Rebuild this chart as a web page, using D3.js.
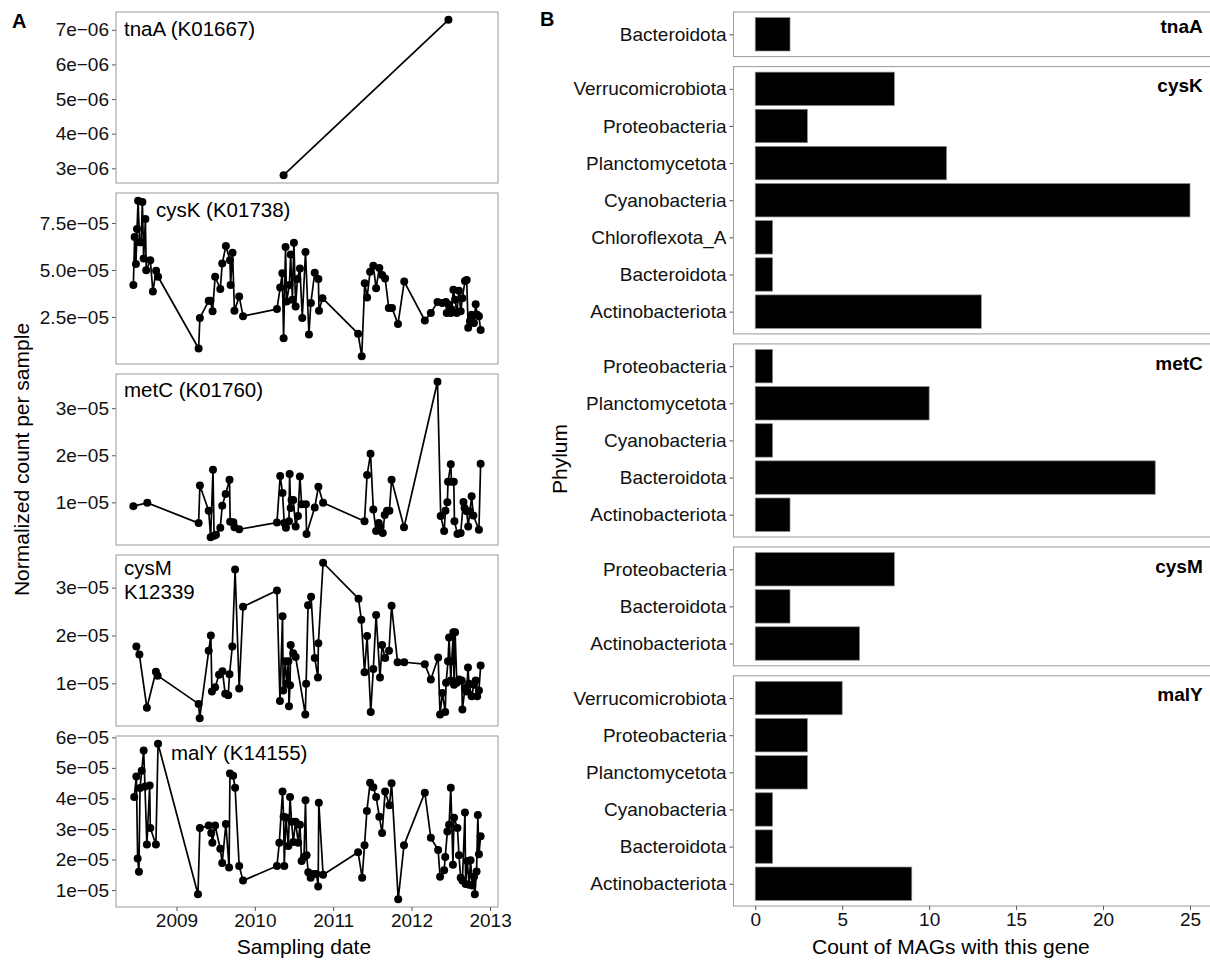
<!DOCTYPE html>
<html>
<head>
<meta charset="utf-8">
<script src="https://cdn.jsdelivr.net/npm/d3@7"></script>
<style>
  body { margin: 0; background: #fff; }
  svg text { font-family: "Liberation Sans", Arial, Helvetica, sans-serif; }
</style>
</head>
<body>
<svg id="fig" width="1210" height="960"></svg>
<script>
// ---------------- Panel A: normalized gene counts over time ----------------
const tnaADates = ["2010-05-15", "2012-06-21"];
const tnaAValues = [2.80e-6, 7.29e-6];

const cysKDates = ["2008-06-14","2008-06-20","2008-06-26","2008-07-01","2008-07-06","2008-07-13","2008-07-20","2008-07-26","2008-08-01","2008-08-09","2008-08-13","2008-09-01","2008-09-13","2008-09-28","2008-10-07",
  "2009-04-14","2009-04-20","2009-05-31","2009-06-08","2009-06-18","2009-06-30","2009-07-24","2009-08-02","2009-08-19","2009-09-07","2009-09-10","2009-09-19","2009-09-28","2009-10-20","2009-11-07",
  "2010-04-14","2010-04-29","2010-05-09","2010-05-15","2010-05-24","2010-05-29","2010-06-11","2010-06-17","2010-06-25","2010-07-02","2010-07-10","2010-07-18","2010-07-30","2010-08-10","2010-08-25","2010-09-10","2010-09-19","2010-10-07","2010-10-24","2010-10-27","2010-11-12",
  "2011-04-27","2011-05-14","2011-05-28","2011-06-08","2011-06-22","2011-07-07","2011-07-20","2011-08-04","2011-08-17","2011-08-31","2011-09-17","2011-10-02","2011-10-30","2011-11-28",
  "2012-03-03","2012-03-31","2012-05-01","2012-05-24","2012-06-09","2012-06-13","2012-06-24","2012-07-02","2012-07-06","2012-07-14","2012-07-22","2012-07-30","2012-08-09","2012-08-17","2012-08-25","2012-09-06","2012-09-14","2012-09-21","2012-09-29","2012-10-07","2012-10-18","2012-10-26","2012-11-02","2012-11-10","2012-11-18"];
const cysKValues = [4.20,6.75,5.31,7.18,8.68,6.48,6.48,8.62,5.61,7.71,4.99,5.52,3.85,4.96,4.64,
  0.82,2.45,3.36,3.36,2.80,4.64,3.99,5.34,6.27,5.52,4.20,5.92,2.83,3.59,2.54,
  2.92,4.06,4.82,1.36,6.22,3.32,4.20,5.82,3.41,6.45,3.06,4.52,5.08,2.45,5.96,1.57,3.24,4.85,4.52,2.83,3.50,
  1.61,0.41,4.29,3.54,4.90,5.22,4.03,5.11,4.73,4.55,2.97,2.97,2.13,4.38,
  2.31,2.71,3.29,3.24,3.29,2.71,3.15,2.71,2.89,3.94,3.41,2.71,3.89,2.80,3.50,4.41,4.46,1.92,2.27,2.62,2.18,3.18,2.62,2.54,1.80].map(v => v * 1e-5);

const metCDates = ["2008-06-14","2008-08-18",
  "2009-04-14","2009-04-20","2009-05-31","2009-06-09","2009-06-20","2009-06-25","2009-07-04","2009-07-24","2009-08-02","2009-08-18","2009-09-05","2009-09-08","2009-09-23","2009-09-28","2009-10-20",
  "2010-04-14","2010-04-29","2010-05-10","2010-05-18","2010-05-26","2010-06-09","2010-06-12","2010-06-17","2010-06-21","2010-06-29","2010-07-10","2010-07-21","2010-07-30","2010-08-07","2010-08-27","2010-08-30","2010-10-07","2010-10-24","2010-11-15",
  "2011-05-27","2011-06-08","2011-06-24","2011-07-07","2011-07-20","2011-08-01","2011-08-09","2011-08-20","2011-08-29","2011-09-09","2011-09-20","2011-09-30","2011-11-27",
  "2012-05-01","2012-05-16","2012-06-01","2012-06-07","2012-06-16","2012-06-19","2012-07-02","2012-07-05","2012-07-16","2012-07-19","2012-08-02","2012-08-17","2012-08-30","2012-09-04","2012-09-14","2012-09-21","2012-09-29","2012-10-07","2012-10-15","2012-11-10","2012-11-18"];
const metCValues = [0.92,0.99,
  0.56,1.36,0.82,0.26,1.69,0.29,0.31,0.46,0.93,1.18,1.48,0.59,0.58,0.47,0.43,
  0.57,1.56,1.20,0.56,0.46,0.60,1.60,0.88,1.05,1.05,0.49,0.71,1.55,0.96,0.96,0.33,0.89,1.33,0.99,
  0.60,1.58,2.03,0.85,0.39,0.56,0.47,0.35,0.73,0.82,0.82,1.48,0.47,
  3.56,0.71,0.39,0.82,1.00,1.44,1.81,1.44,1.44,0.60,0.33,0.35,1.01,0.88,0.81,0.49,0.81,1.13,0.72,0.42,1.82].map(v => v * 1e-5);

const cysMDates = ["2008-06-28","2008-07-12","2008-08-16","2008-09-27","2008-10-05",
  "2009-04-14","2009-04-19","2009-05-31","2009-06-10","2009-06-15","2009-06-30","2009-07-18","2009-08-03","2009-08-16","2009-08-30","2009-09-05","2009-09-18","2009-10-01","2009-10-20","2009-11-07",
  "2010-04-14","2010-04-28","2010-05-10","2010-05-13","2010-05-23","2010-05-29","2010-06-06","2010-06-09","2010-06-14","2010-06-17","2010-06-29","2010-07-10","2010-08-24","2010-08-28","2010-09-06","2010-09-20","2010-10-07","2010-10-22","2010-10-24","2010-11-15",
  "2011-04-29","2011-05-12","2011-05-27","2011-06-08","2011-06-25","2011-07-07","2011-07-20","2011-08-07","2011-08-17","2011-08-31","2011-09-18","2011-09-30","2011-10-28","2011-11-28",
  "2012-03-03","2012-03-31","2012-05-04","2012-05-13","2012-05-24","2012-06-06","2012-06-10","2012-06-19","2012-06-24","2012-07-02","2012-07-06","2012-07-14","2012-07-17","2012-07-22","2012-07-30","2012-08-09","2012-08-22","2012-08-25","2012-09-06","2012-09-14","2012-09-20","2012-09-25","2012-10-07","2012-10-18","2012-10-26","2012-11-02","2012-11-10","2012-11-18"];
const cysMValues = [1.77,1.60,0.49,1.24,1.16,
  0.57,0.27,1.68,2.00,0.83,0.92,1.18,1.25,0.78,0.75,1.19,1.77,3.38,0.89,2.60,
  2.94,0.63,2.40,0.85,1.46,0.99,1.46,0.52,0.96,1.80,1.63,1.55,0.35,0.99,2.63,2.81,1.53,1.12,1.84,3.52,
  2.77,2.33,1.23,1.99,0.40,1.30,2.43,1.12,1.80,1.53,1.68,2.62,1.44,1.44,
  1.40,1.08,1.54,0.35,0.80,0.40,1.01,1.46,1.96,1.06,1.46,2.07,0.97,2.07,1.01,1.08,1.06,0.45,0.90,0.83,1.33,0.99,0.73,0.97,1.06,0.73,0.85,1.37].map(v => v * 1e-5);

const malYDates = ["2008-06-18","2008-06-28","2008-07-04","2008-07-10","2008-07-15","2008-07-23","2008-08-01","2008-08-07","2008-08-16","2008-08-29","2008-09-01","2008-09-27","2008-10-07",
  "2009-04-11","2009-04-20","2009-05-31","2009-06-12","2009-06-17","2009-06-30","2009-07-24","2009-08-02","2009-08-19","2009-09-03","2009-09-07","2009-09-22","2009-10-01","2009-10-20","2009-11-07",
  "2010-04-14","2010-04-25","2010-05-10","2010-05-15","2010-05-18","2010-05-26","2010-06-06","2010-06-14","2010-06-21","2010-06-29","2010-07-10","2010-07-22","2010-07-30","2010-08-07","2010-08-18","2010-08-25","2010-08-30","2010-09-07","2010-09-18","2010-09-30","2010-10-15","2010-10-23","2010-10-26","2010-11-15",
  "2011-04-27","2011-05-16","2011-05-27","2011-06-07","2011-06-22","2011-07-07","2011-07-20","2011-08-04","2011-08-17","2011-08-31","2011-09-20","2011-09-30","2011-10-31","2011-11-27",
  "2012-03-03","2012-03-31","2012-05-04","2012-05-13","2012-06-01","2012-06-06","2012-06-16","2012-06-24","2012-07-02","2012-07-12","2012-07-17","2012-08-02","2012-08-09","2012-08-17","2012-08-25","2012-09-06","2012-09-09","2012-09-17","2012-09-25","2012-10-02","2012-10-10","2012-10-18","2012-10-22","2012-10-30","2012-11-05","2012-11-10","2012-11-18"];
const malYValues = [4.05,4.72,2.03,1.60,4.34,4.91,5.57,4.39,2.49,4.42,3.03,2.49,5.79,
  0.86,3.03,3.11,2.87,2.55,3.11,2.35,1.89,3.16,1.74,4.82,4.74,4.35,1.79,1.31,
  1.79,2.55,4.23,3.40,1.79,3.38,2.44,4.05,3.24,2.57,3.24,2.55,3.14,1.95,2.08,3.94,2.14,1.58,1.40,1.53,1.53,1.12,3.86,1.50,
  2.24,1.40,2.47,3.59,4.51,4.37,4.05,3.40,2.87,4.23,3.78,4.50,0.70,2.47,
  4.19,2.71,2.31,1.44,1.65,2.08,2.92,3.14,4.35,1.83,3.37,3.03,2.14,1.40,1.31,3.54,1.20,1.95,1.17,1.98,1.15,1.44,0.86,1.61,3.46,2.17,2.76].map(v => v * 1e-5);

const tnaATicks = [3e-6, 4e-6, 5e-6, 6e-6, 7e-6];
const tnaATickLabels = ["3e\u221206", "4e\u221206", "5e\u221206", "6e\u221206", "7e\u221206"];
const cysKTicks = [2.5e-5, 5e-5, 7.5e-5];
const cysKTickLabels = ["2.5e\u221205", "5.0e\u221205", "7.5e\u221205"];
const metCTicks = [1e-5, 2e-5, 3e-5];
const metCTickLabels = ["1e\u221205", "2e\u221205", "3e\u221205"];
const cysMTicks = [1e-5, 2e-5, 3e-5];
const cysMTickLabels = ["1e\u221205", "2e\u221205", "3e\u221205"];
const malYTicks = [1e-5, 2e-5, 3e-5, 4e-5, 5e-5, 6e-5];
const malYTickLabels = ["1e\u221205", "2e\u221205", "3e\u221205", "4e\u221205", "5e\u221205", "6e\u221205"];
const yearTicks = [2009, 2010, 2011, 2012, 2013];

// ---------------- Panel B: MAG counts per phylum ----------------
const barGenes = ["tnaA", "cysK", "metC", "cysM", "malY"];
const tnaAPhyla = ["Bacteroidota"];
const tnaACounts = [2];
const cysKPhyla = ["Verrucomicrobiota", "Proteobacteria", "Planctomycetota", "Cyanobacteria", "Chloroflexota_A", "Bacteroidota", "Actinobacteriota"];
const cysKCounts = [8, 3, 11, 25, 1, 1, 13];
const metCPhyla = ["Proteobacteria", "Planctomycetota", "Cyanobacteria", "Bacteroidota", "Actinobacteriota"];
const metCCounts = [1, 10, 1, 23, 2];
const cysMPhyla = ["Proteobacteria", "Bacteroidota", "Actinobacteriota"];
const cysMCounts = [8, 2, 6];
const malYPhyla = ["Verrucomicrobiota", "Proteobacteria", "Planctomycetota", "Cyanobacteria", "Bacteroidota", "Actinobacteriota"];
const malYCounts = [5, 3, 3, 1, 1, 9];
const countTicks = [0, 5, 10, 15, 20, 25];

// ---------------- drawing ----------------
const svg = d3.select("#fig");
const parse = d3.timeParse("%Y-%m-%d");
const BORDER = "#a3a3a3";
const TICK = "#555";
const TEXT = "#111";
const TICK_FONT = 19;
const TITLE_FONT = 21;

function styleAxis(sel) {
  sel.select(".domain").remove();
  sel.selectAll(".tick line").attr("stroke", TICK).attr("stroke-width", 1);
  sel.selectAll(".tick text").attr("fill", TEXT).attr("font-size", TICK_FONT);
}

const lineSeries = [
  { dates: tnaADates, values: tnaAValues, ticks: tnaATicks, tickLabels: tnaATickLabels, label: ["tnaA (K01667)"], lx: 8, ly: 17 },
  { dates: cysKDates, values: cysKValues, ticks: cysKTicks, tickLabels: cysKTickLabels, label: ["cysK (K01738)"], lx: 40, ly: 17 },
  { dates: metCDates, values: metCValues, ticks: metCTicks, tickLabels: metCTickLabels, label: ["metC (K01760)"], lx: 8, ly: 16 },
  { dates: cysMDates, values: cysMValues, ticks: cysMTicks, tickLabels: cysMTickLabels, label: ["cysM", "K12339"], lx: 8, ly: 13 },
  { dates: malYDates, values: malYValues, ticks: malYTicks, tickLabels: malYTickLabels, label: ["malY (K14155)"], lx: 55, ly: 17 }
];

const A = { left: 116, right: 498, top: 12, height: 171, step: 181 };
const allDates = lineSeries.flatMap(s => s.dates.map(parse));
const [dMin, dMax] = d3.extent(allDates);
const dPad = (dMax - dMin) * 0.05;
const x = d3.scaleTime()
  .domain([new Date(+dMin - dPad), new Date(+dMax + dPad)])
  .range([A.left, A.right]);

lineSeries.forEach((s, i) => {
  const top = A.top + i * A.step;
  const bottom = top + A.height;
  const pts = s.dates.map((d, j) => ({ date: parse(d), v: s.values[j] }))
    .sort((a, b) => a.date - b.date);
  const [vMin, vMax] = d3.extent(pts, d => d.v);
  const vPad = (vMax - vMin) * 0.05;
  const y = d3.scaleLinear().domain([vMin - vPad, vMax + vPad]).range([bottom, top]);

  const g = svg.append("g");
  g.append("g")
    .attr("transform", `translate(${A.left},0)`)
    .call(d3.axisLeft(y).tickValues(s.ticks).tickFormat((d, k) => s.tickLabels[k]).tickSize(4).tickPadding(3))
    .call(styleAxis);

  g.append("path")
    .datum(pts)
    .attr("d", d3.line().x(d => x(d.date)).y(d => y(d.v)))
    .attr("fill", "none")
    .attr("stroke", "#000")
    .attr("stroke-width", 1.7)
    .attr("stroke-linejoin", "round");

  g.selectAll("circle")
    .data(pts)
    .join("circle")
    .attr("cx", d => x(d.date))
    .attr("cy", d => y(d.v))
    .attr("r", 4)
    .attr("fill", "#000");

  g.append("rect")
    .attr("x", A.left).attr("y", top)
    .attr("width", A.right - A.left).attr("height", A.height)
    .attr("fill", "none").attr("stroke", BORDER).attr("stroke-width", 1.1);

  s.label.forEach((t, k) => {
    g.append("text")
      .attr("x", A.left + s.lx)
      .attr("y", top + s.ly + k * 24)
      .attr("dy", "0.35em")
      .attr("font-size", 20.5)
      .attr("fill", "#000")
      .text(t);
  });

  if (i === lineSeries.length - 1) {
    g.append("g")
      .attr("transform", `translate(0,${bottom})`)
      .call(d3.axisBottom(x)
        .tickValues(yearTicks.map(yr => new Date(yr, 0, 1)))
        .tickFormat(d3.timeFormat("%Y"))
        .tickSize(4).tickPadding(3))
      .call(styleAxis);
  }
});

svg.append("text")
  .attr("x", (A.left + A.right) / 2 - 3).attr("y", 947)
  .attr("dy", "0.35em").attr("text-anchor", "middle")
  .attr("font-size", TITLE_FONT).attr("fill", "#000")
  .text("Sampling date");

svg.append("text")
  .attr("transform", `translate(22,${(A.top + A.top + 4 * A.step + A.height) / 2}) rotate(-90)`)
  .attr("dy", "0.35em").attr("text-anchor", "middle")
  .attr("font-size", TITLE_FONT).attr("fill", "#000")
  .text("Normalized count per sample");

svg.append("text")
  .attr("x", 12).attr("y", 21).attr("dy", "0.35em")
  .attr("font-size", 20).attr("font-weight", "bold").attr("fill", "#000")
  .text("A");

// Panel B
const barSets = [
  { gene: "tnaA", phyla: tnaAPhyla, counts: tnaACounts, labelDy: 14 },
  { gene: "cysK", phyla: cysKPhyla, counts: cysKCounts, labelDy: 19 },
  { gene: "metC", phyla: metCPhyla, counts: metCCounts, labelDy: 19 },
  { gene: "cysM", phyla: cysMPhyla, counts: cysMCounts, labelDy: 19 },
  { gene: "malY", phyla: malYPhyla, counts: malYCounts, labelDy: 19 }
];

const B = { left: 733.5, right: 1211.75, top: 12, bottom: 906, gap: 10 };
const maxCount = d3.max(barSets.flatMap(b => b.counts));
const xB = d3.scaleLinear()
  .domain([-0.05 * maxCount, maxCount * 1.05])
  .range([B.left, B.right]);

const totalRows = d3.sum(barSets, b => b.phyla.length + 0.2);
const unit = (B.bottom - B.top - B.gap * (barSets.length - 1)) / totalRows;

let cursor = B.top;
barSets.forEach((b, i) => {
  const h = (b.phyla.length + 0.2) * unit;
  const top = cursor, bottom = cursor + h;
  cursor = bottom + B.gap;
  const yB = d3.scalePoint().domain(b.phyla).range([top, bottom]).padding(0.6);
  const bw = yB.step() * 0.9;

  const g = svg.append("g");
  g.append("g")
    .attr("transform", `translate(${B.left},0)`)
    .call(d3.axisLeft(yB).tickSize(4).tickPadding(3))
    .call(styleAxis);

  g.selectAll("rect.bar")
    .data(b.phyla.map((p, j) => ({ phylum: p, count: b.counts[j] })))
    .join("rect")
    .attr("class", "bar")
    .attr("x", xB(0))
    .attr("y", d => yB(d.phylum) - bw / 2)
    .attr("width", d => xB(d.count) - xB(0))
    .attr("height", bw)
    .attr("fill", "#000")
    .attr("stroke", "#8a8a8a")
    .attr("stroke-width", 0.7);

  g.append("rect")
    .attr("x", B.left).attr("y", top)
    .attr("width", B.right - B.left).attr("height", h)
    .attr("fill", "none").attr("stroke", BORDER).attr("stroke-width", 1.1);

  g.append("text")
    .attr("x", B.right - 9).attr("y", top + b.labelDy)
    .attr("dy", "0.35em").attr("text-anchor", "end")
    .attr("font-size", 19).attr("font-weight", "bold").attr("fill", "#000")
    .text(b.gene);

  if (i === barSets.length - 1) {
    g.append("g")
      .attr("transform", `translate(0,${bottom})`)
      .call(d3.axisBottom(xB).tickValues(countTicks).tickFormat(d3.format("d")).tickSize(4).tickPadding(3))
      .call(styleAxis);
  }
});

svg.append("text")
  .attr("x", xB(11.25)).attr("y", 947)
  .attr("dy", "0.35em").attr("text-anchor", "middle")
  .attr("font-size", TITLE_FONT).attr("fill", "#000")
  .text("Count of MAGs with this gene");

svg.append("text")
  .attr("transform", `translate(560,${(B.top + B.bottom) / 2}) rotate(-90)`)
  .attr("dy", "0.35em").attr("text-anchor", "middle")
  .attr("font-size", TITLE_FONT).attr("fill", "#000")
  .text("Phylum");

svg.append("text")
  .attr("x", 540).attr("y", 19).attr("dy", "0.35em")
  .attr("font-size", 20).attr("font-weight", "bold").attr("fill", "#000")
  .text("B");
</script>
</body>
</html>
